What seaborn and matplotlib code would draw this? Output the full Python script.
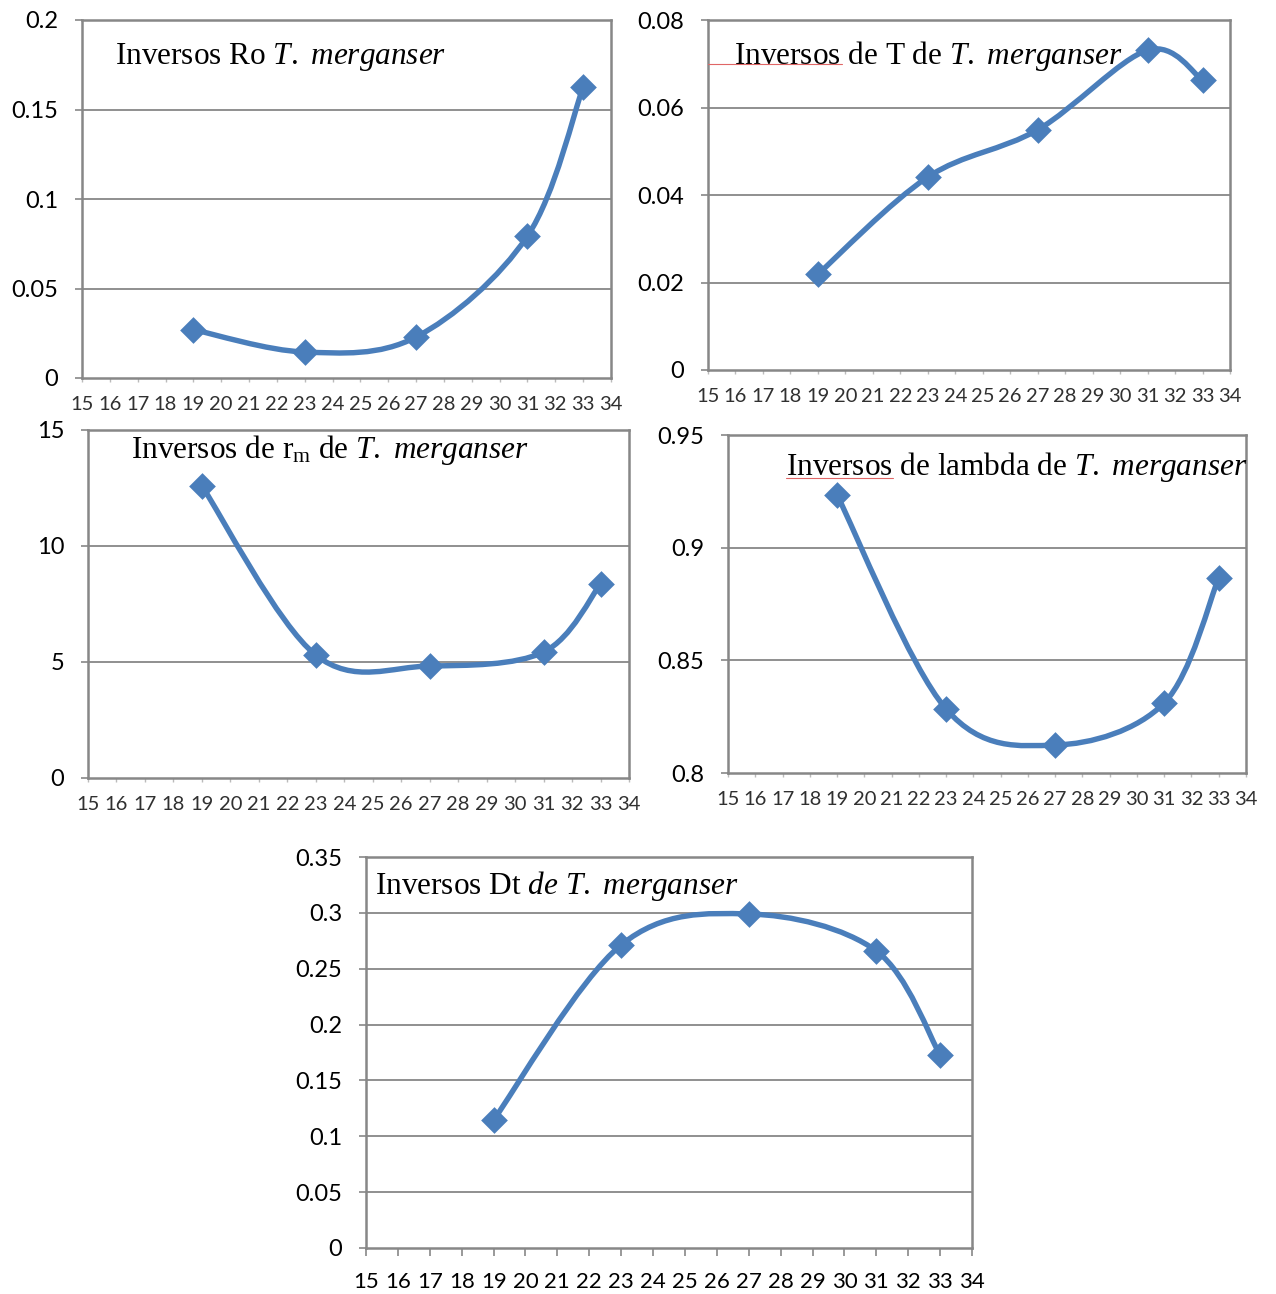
import numpy as np
import matplotlib
matplotlib.use("Agg")
import matplotlib.pyplot as plt
from matplotlib.path import Path
from matplotlib.patches import PathPatch
import seaborn as sns
import pandas as pd

sns.set_theme(style="white")
plt.rcParams['font.family'] = ['Lato', 'DejaVu Sans']
plt.rcParams['mathtext.fontset'] = 'custom'
plt.rcParams['mathtext.rm'] = 'Liberation Serif'
plt.rcParams['mathtext.it'] = 'Liberation Serif:italic'

# ---------------- data ----------------
temps = [19, 23, 27, 31, 33]
x_tick_labels = [str(t) for t in range(15, 35)]

ro_vals = [0.027, 0.0145, 0.0229, 0.0793, 0.1626]
t_vals = [0.0219, 0.0441, 0.0549, 0.0731, 0.0663]
rm_vals = [12.59, 5.30, 4.83, 5.43, 8.36]
lambda_vals = [0.9234, 0.8284, 0.8124, 0.8311, 0.8866]
dt_vals = [0.1146, 0.2713, 0.299, 0.2659, 0.1728]

ro_ticks = [0, 0.05, 0.1, 0.15, 0.2]
ro_labels = ["0", "0.05", "0.1", "0.15", "0.2"]
t_ticks = [0, 0.02, 0.04, 0.06, 0.08]
t_labels = ["0", "0.02", "0.04", "0.06", "0.08"]
rm_ticks = [0, 5, 10, 15]
rm_labels = ["0", "5", "10", "15"]
lambda_ticks = [0.8, 0.85, 0.9, 0.95]
lambda_labels = ["0.8", "0.85", "0.9", "0.95"]
dt_ticks = [0, 0.05, 0.1, 0.15, 0.2, 0.25, 0.3, 0.35]
dt_labels = ["0", "0.05", "0.1", "0.15", "0.2", "0.25", "0.3", "0.35"]

titles = [
    r"Inversos Ro $\mathit{T.}$ $\mathit{merganser}$",
    r"Inversos de T de $\mathit{T.}$ $\mathit{merganser}$",
    r"Inversos de r$_{\mathrm{m}}$ de $\mathit{T.}$ $\mathit{merganser}$",
    r"Inversos de lambda de $\mathit{T.}$ $\mathit{merganser}$",
    r"Inversos Dt $\mathit{de}$ $\mathit{T.}$ $\mathit{merganser}$",
]

# ---------------- layout ----------------
W, H = 1276, 1294
BLUE = "#4A7EBB"
GRAY = "#878787"

fig = plt.figure(figsize=(W / 100, H / 100), dpi=100)
fig.patch.set_facecolor("white")


def rect(l, r, t, b):
    return [l / W, 1 - b / H, (r - l) / W, (b - t) / H]


panels = [
    dict(rect=rect(82, 611, 20, 378), vals=ro_vals, ticks=ro_ticks, labels=ro_labels,
         title=titles[0], tpos=(0.062, 0.897), faint=True),
    dict(rect=rect(708, 1230, 20, 370), vals=t_vals, ticks=t_ticks, labels=t_labels,
         title=titles[1], tpos=(0.05, 0.898), faint=True, redline=(0.0, 0.257, 0.874)),
    dict(rect=rect(88, 629, 430, 778), vals=rm_vals, ticks=rm_ticks, labels=rm_labels,
         title=titles[2], tpos=(0.079, 0.942), faint=True),
    dict(rect=rect(728, 1246, 435, 773), vals=lambda_vals, ticks=lambda_ticks, labels=lambda_labels,
         title=titles[3], tpos=(0.112, 0.905), faint=True, redline=(0.112, 0.318, 0.873)),
    dict(rect=rect(366, 972, 857, 1248), vals=dt_vals, ticks=dt_ticks, labels=dt_labels,
         title=titles[4], tpos=(0.015, 0.926), faint=False),
]


def smooth_path(xs, ys):
    pts = np.column_stack([xs, ys]).astype(float)
    n = len(pts)
    verts = [pts[0]]
    codes = [Path.MOVETO]
    for i in range(n - 1):
        p0 = pts[i - 1] if i > 0 else pts[i]
        p1 = pts[i]
        p2 = pts[i + 1]
        p3 = pts[i + 2] if i + 2 < n else pts[i + 1]
        c1 = p1 + (p2 - p0) / 6.0
        c2 = p2 - (p3 - p1) / 6.0
        verts += [c1, c2, p2]
        codes += [Path.CURVE4] * 3
    return Path(verts, codes)


for p in panels:
    ax = fig.add_axes(p["rect"])
    df = pd.DataFrame({"temp": temps, "val": p["vals"]})
    ax.set_xlim(15, 34)
    ax.set_ylim(p["ticks"][0], p["ticks"][-1])

    patch = PathPatch(smooth_path(df["temp"], df["val"]), facecolor="none",
                      edgecolor=BLUE, lw=3.9, capstyle="round", joinstyle="round",
                      zorder=3)
    ax.add_patch(patch)
    sns.scatterplot(data=df, x="temp", y="val", marker="D", s=185, color=BLUE,
                    edgecolor=BLUE, linewidth=0, ax=ax, zorder=4, legend=False)

    ax.set_yticks(p["ticks"])
    ax.set_yticklabels(p["labels"])
    ax.set_xticks(range(15, 35))
    ax.set_xticklabels(x_tick_labels)
    ax.set_xlabel("")
    ax.set_ylabel("")

    for y in p["ticks"][1:-1]:
        ax.axhline(y, color=GRAY, lw=1.3, zorder=1)
    for s in ax.spines.values():
        s.set_color(GRAY)
        s.set_linewidth(1.8)

    ax.tick_params(axis="y", direction="out", length=5, width=1.2, color=GRAY,
                   pad=12, labelsize=17, labelcolor="black", left=True)
    if p["faint"]:
        ax.tick_params(axis="x", direction="out", length=3, width=1.0, color="#bbbbbb",
                       pad=10, labelsize=14.5, labelcolor="#303030", bottom=True)
    else:
        ax.tick_params(axis="x", direction="out", length=6, width=1.2, color=GRAY,
                       pad=11, labelsize=16, labelcolor="black", bottom=True)

    ax.text(p["tpos"][0], p["tpos"][1], p["title"], transform=ax.transAxes,
            fontsize=22.5, family="Liberation Serif", ha="left", va="center",
            color="black", zorder=5, clip_on=False)
    if "redline" in p:
        x0, x1, yy = p["redline"]
        ax.plot([x0, x1], [yy, yy], transform=ax.transAxes, color="#e06666",
                lw=0.8, zorder=5, clip_on=False)

fig.savefig("out.png", dpi=100, facecolor="white")
